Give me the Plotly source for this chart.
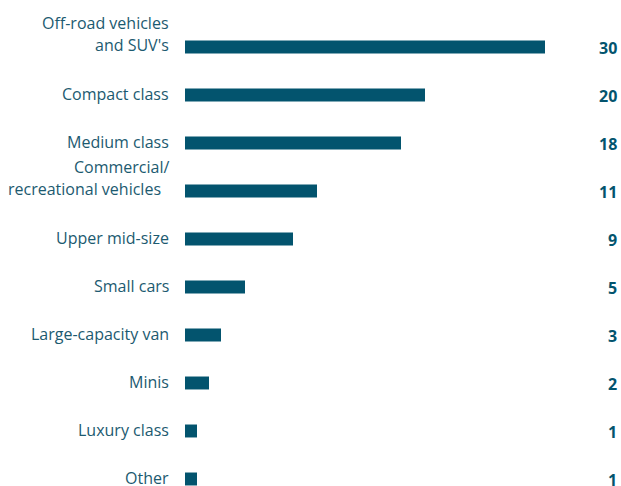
import plotly.graph_objects as go

categories = ["Off-road vehicles\nand SUV's", "Compact class", "Medium class",
              "Commercial/\nrecreational vehicles ", "Upper mid-size", "Small cars",
              "Large-capacity van", "Minis", "Luxury class", "Other"]
values = [30, 20, 18, 11, 9, 5, 3, 2, 1, 1]

BAR = "#03546e"
TXT = "#1c5a70"
FONT = "Open Sans"

idx = list(range(len(categories)))
fig = go.Figure(go.Bar(
    x=values, y=idx, orientation="h", width=0.27,
    marker=dict(color=BAR, line=dict(width=0)), hoverinfo="skip"))

ann = []
for i, (c, v) in enumerate(zip(categories, values)):
    lines = c.split("\n")
    n = len(lines)
    for j, ln in enumerate(lines):
        txt = ln.rstrip() + ("&nbsp;&nbsp;" if ln.endswith(" ") else "")
        ann.append(dict(x=0, xref="x", y=i, yref="y", text=txt,
                        xanchor="right", yanchor="middle", xshift=-14,
                        yshift=(n - 1 - j) * 22 + (1 if n == 1 else 2),
                        showarrow=False, font=dict(family=FONT, size=16, color=TXT)))
    ann.append(dict(x=1, xref="paper", y=i, yref="y", text="<b>%d</b>" % v,
                    xanchor="right", yanchor="middle", xshift=2, yshift=-1,
                    showarrow=False, font=dict(family=FONT, size=16, color=BAR)))

fig.update_layout(
    width=621, height=486,
    margin=dict(l=185, r=4, t=0, b=0),
    paper_bgcolor="white", plot_bgcolor="white",
    showlegend=False,
    xaxis=dict(range=[0, 36], visible=False, fixedrange=True),
    yaxis=dict(range=[9.146, -0.979], visible=False, fixedrange=True),
    annotations=ann,
)
fig.write_html("out.html", config={"displayModeBar": False},
               post_script="document.body.style.margin='0';document.body.style.overflow='hidden';")
